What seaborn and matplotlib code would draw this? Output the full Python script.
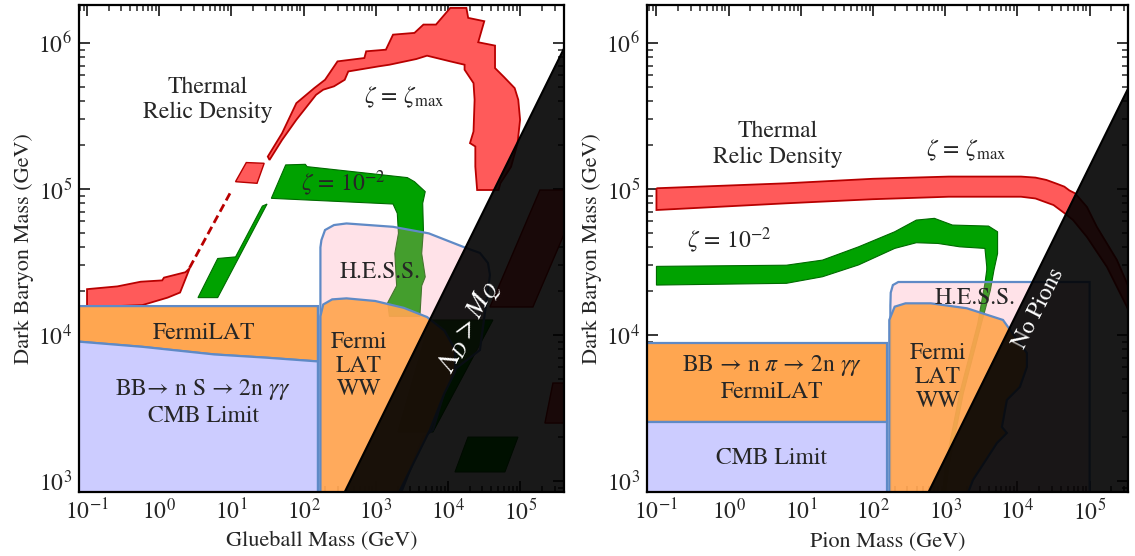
import numpy as np
import matplotlib
matplotlib.use("Agg")
import matplotlib.pyplot as plt
import seaborn as sns
import pandas as pd
from matplotlib.ticker import FixedLocator, NullFormatter, FixedFormatter

# ---------------- data (log10 of GeV) ----------------
# Left panel: glueball mass vs dark baryon mass
gb_red_arc_lx = [1.504, 1.702, 1.900, 2.148, 2.297, 2.470, 2.842, 2.867, 3.140, 3.239, 3.536, 3.660, 3.834,
                 4.032, 4.255, 4.280, 4.503, 4.419, 4.652, 4.652, 4.776, 4.924, 4.974, 4.999, 4.964, 4.875,
                 4.726, 4.701,
                 4.404, 4.379, 4.379, 4.305, 4.354, 4.369, 4.354, 4.230, 4.230, 4.032, 3.933, 3.710, 3.561,
                 3.189, 3.041, 2.619, 2.570, 2.421, 2.272, 2.173, 1.900, 1.702, 1.528]
gb_red_arc_ly = [5.222, 5.382, 5.588, 5.691, 5.748, 5.874, 5.897, 5.943, 5.954, 6.057, 6.069, 6.126, 6.126,
                 6.240, 6.240, 6.172, 6.149, 6.005, 5.982, 5.828, 5.767, 5.691, 5.611, 5.474, 5.314, 5.153,
                 5.039, 4.993,
                 4.993, 5.153, 5.291, 5.314, 5.394, 5.611, 5.725, 5.817, 5.851, 5.874, 5.886, 5.913, 5.890,
                 5.851, 5.840, 5.805, 5.748, 5.703, 5.680, 5.645, 5.474, 5.336, 5.199]
gb_red_square_lx = [1.057, 1.206, 1.454, 1.355]
gb_red_square_ly = [5.050, 5.181, 5.176, 5.039]
gb_red_low_lx = [-1.0, -0.579, -0.256, 0.041, 0.066, 0.363, 0.423, 0.289, 0.116, -0.232, -1.0]
gb_red_low_ly = [4.314, 4.333, 4.365, 4.374, 4.393, 4.430, 4.458, 4.291, 4.256, 4.205, 4.190]
gb_red_dash_lx = [0.42, 0.98]
gb_red_dash_ly = [4.46, 4.97]
gb_red_hidden1_lx = [5.274, 5.87, 5.177, 4.582]
gb_red_hidden1_ly = [4.993, 4.993, 4.192, 4.192]
gb_red_hidden2_lx = [5.454, 6.0, 5.8, 5.343]
gb_red_hidden2_ly = [3.671, 3.671, 3.397, 3.397]

gb_green_main_lx = [1.553, 1.752, 2.024, 2.049, 3.437, 3.536, 3.685, 3.650, 3.660, 3.636, 3.685, 3.636, 3.611,
                    3.189, 3.165, 3.289, 3.264, 3.314, 3.298, 3.239]
gb_green_main_ly = [4.936, 5.165, 5.169, 5.153, 5.078, 5.050, 4.982, 4.902, 4.719, 4.558, 4.398, 4.337, 4.128,
                    4.128, 4.221, 4.337, 4.558, 4.696, 4.833, 4.897]
gb_green_strip_lx = [1.429, 1.494, 0.810, 0.537, 0.810, 1.058]
gb_green_strip_ly = [4.883, 4.897, 4.256, 4.256, 4.524, 4.535]
gb_green_hidden1_lx = [3.751, 4.623, 3.792, 3.307]
gb_green_hidden1_ly = [4.103, 4.103, 3.336, 3.336]
gb_green_hidden2_lx = [4.277, 4.970, 4.789, 4.097]
gb_green_hidden2_ly = [3.301, 3.301, 3.062, 3.062]

gb_cmb_top_lx = [-1.3, -0.232, 0.760, 1.504, 2.198]
gb_cmb_top_ly = [3.962, 3.919, 3.867, 3.844, 3.819]
gb_fermi_band_top_ly = 4.198
gb_fermi_band_edge_lx = 2.198

gb_hess_lx = [2.233, 2.233, 2.247, 2.297, 2.421, 2.594, 3.239, 3.735, 4.230, 4.443, 4.554, 4.582, 4.443,
              4.028, 3.792, 3.654, 3.335]
gb_hess_ly = [2.90, 4.600, 4.650, 4.719, 4.753, 4.764, 4.741, 4.696, 4.600, 4.562, 4.493, 4.411, 3.897,
              3.740, 3.349, 3.301, 2.90]
gb_ww_lx = [2.233, 2.233, 2.272, 2.396, 2.594, 2.991, 3.388, 3.710, 3.950, 4.100, 4.100, 3.950, 3.750,
            3.600, 3.300]
gb_ww_ly = [2.90, 4.128, 4.209, 4.244, 4.251, 4.233, 4.186, 4.123, 4.030, 3.900, 3.750, 3.600, 3.350,
            3.200, 2.90]
gb_black_offset = 0.355      # Lambda_D > M_Q : log10(M_B) = log10(m) + offset

# Right panel: pion mass vs dark baryon mass
pi_red_lx = [-1.0, 0.8, 2.0, 3.05, 4.05, 4.25, 4.40, 4.55, 4.65, 4.72, 4.80, 4.963, 5.101, 5.378, 5.558, 5.8,
             5.8, 5.627, 5.517, 5.240, 4.963, 4.769, 4.65, 4.50, 4.25, 4.05, 3.05, 2.0, 0.8, -1.0]
pi_red_ly = [5.005, 5.039, 5.070, 5.085, 5.085, 5.078, 5.062, 5.035, 5.016, 4.990, 4.970, 4.877, 4.740,
             4.514, 4.308, 4.100,
             3.900, 4.055, 4.192, 4.466, 4.671, 4.788, 4.835, 4.890, 4.935, 4.947, 4.947, 4.930, 4.902, 4.856]
pi_green_lx = [-1.0, 0.8, 1.3, 1.8, 2.3, 2.6, 2.85, 3.1, 3.6, 3.725, 3.725, 3.675, 3.625, 3.55, 3.50, 3.25,
               3.05, 3.0,
               2.96, 3.0, 3.2, 3.45, 3.50, 3.55, 3.575, 3.575, 3.55, 3.2, 2.9, 2.6, 2.3, 1.8, 1.3, 0.8, -1.0]
pi_green_ly = [4.470, 4.478, 4.513, 4.604, 4.707, 4.787, 4.799, 4.753, 4.746, 4.707, 4.558, 4.445, 4.307,
               4.169, 4.077, 3.600, 3.100, 2.900,
               2.900, 3.100, 3.600, 4.077, 4.215, 4.353, 4.445, 4.467, 4.593, 4.604, 4.627, 4.632, 4.593,
               4.480, 4.399, 4.354, 4.342]
pi_cmb_top_ly = 3.406
pi_fermi_band_top_ly = 3.947
pi_band_edge_lx = 2.200
pi_hess_lx = [2.24, 2.24, 2.245, 2.275, 2.35, 5.0, 5.0]
pi_hess_ly = [2.90, 4.20, 4.29, 4.342, 4.363, 4.363, 2.90]
pi_ww_lx = [2.225, 2.225, 2.30, 2.45, 2.80, 3.30, 3.80, 3.869, 4.131, 4.131, 4.034, 3.854, 3.785, 3.854,
            3.716, 3.384, 3.301]
pi_ww_ly = [2.90, 4.103, 4.194, 4.217, 4.217, 4.183, 4.103, 4.055, 3.877, 3.781, 3.644, 3.555, 3.370,
            3.329, 3.260, 3.007, 2.90]
pi_black_offset = 0.155      # no pions region

# axis ranges (GeV) and tick exponents
left_xlim = (0.0774, 4.05e5)
right_xlim = (0.074, 3.4e5)
ylim = (841, 1.82e6)
x_major_exp = [-1, 0, 1, 2, 3, 4, 5]
y_major_exp = [3, 4, 5, 6]

# ---------------- style ----------------
sns.set_theme(style="ticks")
plt.rcParams["font.family"] = ["STIXGeneral", "Liberation Serif", "DejaVu Serif"]
plt.rcParams["mathtext.fontset"] = "stix"
plt.rcParams["axes.linewidth"] = 1.6

RED_F, RED_E = "#ff5a5a", "#b80000"
GRN_F, GRN_E = "#00a200", "#006a00"
CMB_F = "#ccccff"
ORG_F = "#ffa650"
PINK_F = "#ff96aa"
BLUE_E = "#5f8ac6"

fig = plt.figure(figsize=(11.35, 5.56), dpi=100)
axL = fig.add_axes([79 / 1135, 64 / 556, 485 / 1135, 487 / 556])
axR = fig.add_axes([647 / 1135, 64 / 556, 481 / 1135, 487 / 556])


def tp(v):
    return np.power(10.0, np.asarray(v, dtype=float))


def poly(ax, lx, ly, fc, ec=None, lw=1.2, z=1, alpha=1.0):
    x, y = tp(lx), tp(ly)
    ax.fill(x, y, facecolor=fc, edgecolor="none", alpha=alpha, zorder=z)
    if ec is not None:
        ax.fill(x, y, facecolor="none", edgecolor=ec, lw=lw, zorder=z + 0.1)


def black_region(ax, offset, xlim):
    ly0 = np.log10(ylim[0]) - 0.1
    lx1 = np.log10(xlim[1]) + 0.3
    lx = [ly0 - offset, lx1, lx1]
    ly = [ly0, lx1 + offset, ly0]
    x, y = tp(lx), tp(ly)
    ax.fill(x, y, facecolor="black", edgecolor="none", alpha=0.9, zorder=5)
    ax.plot(x[:2], y[:2], color="black", lw=1.5, zorder=5.1)


def minor_positions(lo, hi):
    vals = []
    for e in range(int(np.floor(np.log10(lo))), int(np.ceil(np.log10(hi))) + 1):
        for m in range(2, 10):
            v = m * 10.0 ** e
            if lo <= v <= hi:
                vals.append(v)
    return vals


def setup(ax, xlim, xlabel):
    ax.set_xscale("log")
    ax.set_yscale("log")
    ax.set_xlim(*xlim)
    ax.set_ylim(*ylim)
    ax.xaxis.set_major_locator(FixedLocator(tp(x_major_exp)))
    ax.xaxis.set_major_formatter(FixedFormatter([r"$10^{%d}$" % e for e in x_major_exp]))
    ax.yaxis.set_major_locator(FixedLocator(tp(y_major_exp)))
    ax.yaxis.set_major_formatter(FixedFormatter([r"$10^{%d}$" % e for e in y_major_exp]))
    ax.xaxis.set_minor_locator(FixedLocator(minor_positions(*xlim)))
    ax.yaxis.set_minor_locator(FixedLocator(minor_positions(*ylim)))
    ax.xaxis.set_minor_formatter(NullFormatter())
    ax.yaxis.set_minor_formatter(NullFormatter())
    ax.tick_params(which="both", direction="in", top=True, right=True, labelsize=17, pad=5)
    ax.tick_params(which="major", length=8, width=1.3)
    ax.tick_params(which="minor", length=4, width=1.1)
    ax.set_xlabel(xlabel, fontsize=16, labelpad=5)
    ax.set_ylabel("Dark Baryon Mass (GeV)", fontsize=16, labelpad=3)
    for s in ax.spines.values():
        s.set_color("black")
        s.set_zorder(10)


# ---------------- left panel ----------------
ax = axL
setup(ax, left_xlim, "Glueball Mass (GeV)")
poly(ax, gb_red_arc_lx, gb_red_arc_ly, RED_F, RED_E, 1.3, 1)
poly(ax, gb_red_square_lx, gb_red_square_ly, RED_F, RED_E, 1.0, 1)
poly(ax, gb_red_low_lx, gb_red_low_ly, RED_F, RED_E, 1.3, 1)
poly(ax, gb_red_hidden1_lx, gb_red_hidden1_ly, RED_F, RED_E, 1.0, 1)
poly(ax, gb_red_hidden2_lx, gb_red_hidden2_ly, RED_F, RED_E, 1.0, 1)
dash_df = pd.DataFrame({"x": tp(gb_red_dash_lx), "y": tp(gb_red_dash_ly)})
sns.lineplot(data=dash_df, x="x", y="y", ax=ax, color=RED_E, lw=2.0, dashes=False,
             linestyle=(0, (3, 1.6)), zorder=1, legend=False)
poly(ax, gb_green_main_lx, gb_green_main_ly, GRN_F, GRN_E, 0.8, 1)
poly(ax, gb_green_strip_lx, gb_green_strip_ly, GRN_F, GRN_E, 0.8, 1)
poly(ax, gb_green_hidden1_lx, gb_green_hidden1_ly, GRN_F, GRN_E, 0.8, 1)
poly(ax, gb_green_hidden2_lx, gb_green_hidden2_ly, GRN_F, GRN_E, 0.8, 1)

# FermiLAT band + CMB region
cmb_lx = gb_cmb_top_lx + [gb_fermi_band_edge_lx, -1.3]
cmb_ly = gb_cmb_top_ly + [2.8, 2.8]
band_lx = gb_cmb_top_lx + [gb_fermi_band_edge_lx, -1.3]
band_ly = gb_cmb_top_ly + [gb_fermi_band_top_ly, gb_fermi_band_top_ly]
poly(ax, band_lx, band_ly, ORG_F, BLUE_E, 1.6, 2)
poly(ax, cmb_lx, cmb_ly, CMB_F, BLUE_E, 1.6, 2.2)
poly(ax, gb_hess_lx, gb_hess_ly, PINK_F, None, z=3, alpha=0.27)
ax.fill(tp(gb_hess_lx), tp(gb_hess_ly), facecolor="none", edgecolor=BLUE_E, lw=1.6, zorder=3.1)
poly(ax, gb_ww_lx, gb_ww_ly, ORG_F, None, z=4, alpha=0.92)
ax.fill(tp(gb_ww_lx), tp(gb_ww_ly), facecolor="none", edgecolor=BLUE_E, lw=1.6, zorder=4.1)
black_region(ax, gb_black_offset, left_xlim)

tk = dict(fontsize=17, ha="center", va="center", zorder=6)
ax.text(4.7, 4.07e5, "Thermal\nRelic Density", linespacing=1.25, **tk)
ax.text(2460, 4.26e5, r"$\zeta\,=\,\zeta_{\mathrm{max}}$", **tk)
ax.text(352, 1.1e5, r"$\zeta\,=\,10^{-2}$", **tk)
ax.text(1143, 2.7e4, "H.E.S.S.", **tk)
ax.text(4.17, 1.03e4, "FermiLAT", **tk)
ax.text(4.05, 3476, "BB\u2192 n S \u2192 2n $\\gamma\\gamma$\nCMB Limit", linespacing=1.25, **tk)
ax.text(585, 6138, "Fermi\nLAT\nWW", linespacing=1.15, **tk)
ax.text(2.02e4, 1.12e4, r"$\Lambda_D > M_Q$", color="white", rotation=63, fontsize=20,
        ha="center", va="center", zorder=6)

# ---------------- right panel ----------------
ax = axR
setup(ax, right_xlim, "Pion Mass (GeV)")
poly(ax, pi_red_lx, pi_red_ly, RED_F, RED_E, 1.3, 1)
poly(ax, pi_green_lx, pi_green_ly, GRN_F, GRN_E, 0.8, 1)
poly(ax, [-1.3, pi_band_edge_lx, pi_band_edge_lx, -1.3],
     [pi_cmb_top_ly, pi_cmb_top_ly, pi_fermi_band_top_ly, pi_fermi_band_top_ly], ORG_F, BLUE_E, 1.6, 2)
poly(ax, [-1.3, pi_band_edge_lx, pi_band_edge_lx, -1.3],
     [2.8, 2.8, pi_cmb_top_ly, pi_cmb_top_ly], CMB_F, BLUE_E, 1.6, 2.2)
poly(ax, pi_hess_lx, pi_hess_ly, PINK_F, None, z=3, alpha=0.27)
ax.fill(tp(pi_hess_lx), tp(pi_hess_ly), facecolor="none", edgecolor=BLUE_E, lw=1.6, zorder=3.1)
poly(ax, pi_ww_lx, pi_ww_ly, ORG_F, None, z=4, alpha=0.92)
ax.fill(tp(pi_ww_lx), tp(pi_ww_ly), facecolor="none", edgecolor=BLUE_E, lw=1.6, zorder=4.1)
black_region(ax, pi_black_offset, right_xlim)

ax.text(4.82, 2.03e5, "Thermal\nRelic Density", linespacing=1.25, **tk)
ax.text(1937, 1.85e5, r"$\zeta\,=\,\zeta_{\mathrm{max}}$", **tk)
ax.text(1.01, 4.48e4, r"$\zeta\,=\,10^{-2}$", **tk)
ax.text(2576, 1.79e4, "H.E.S.S.", **tk)
ax.text(3.98, 5070, "BB \u2192 n $\\pi$ \u2192 2n $\\gamma\\gamma$\nFermiLAT", linespacing=1.25, **tk)
ax.text(793, 5150, "Fermi\nLAT\nWW", linespacing=1.15, **tk)
ax.text(3.98, 1439, "CMB Limit", **tk)
ax.text(1.99e4, 1.53e4, "No Pions", color="white", rotation=63, fontsize=17,
        ha="center", va="center", zorder=6)

fig.savefig("out.png", dpi=100)
